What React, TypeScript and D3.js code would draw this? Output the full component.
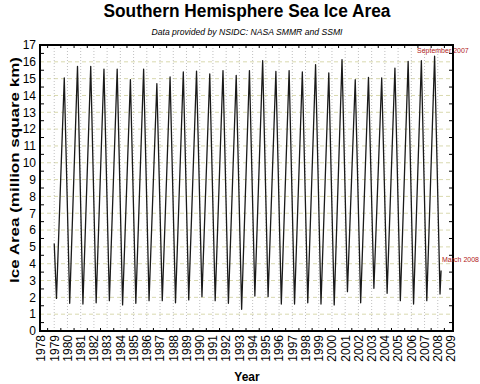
import React from "react";
import * as d3 from "d3";

// Seasonal extremes (million square km)
const minYears = [1979,1980,1981,1982,1983,1984,1985,1986,1987,1988,1989,1990,1991,1992,1993,1994,1995,1996,1997,1998,1999,2000,2001,2002,2003,2004,2005,2006,2007,2008];
const minValues = [1.94,1.65,1.6,1.68,1.8,1.55,1.65,1.8,1.8,1.68,1.85,2.04,1.8,1.65,1.29,2.08,2.04,1.6,1.6,1.68,1.6,1.55,2.34,1.68,2.54,2.24,1.8,1.6,1.8,2.2];
const maxYears = [1979,1980,1981,1982,1983,1984,1985,1986,1987,1988,1989,1990,1991,1992,1993,1994,1995,1996,1997,1998,1999,2000,2001,2002,2003,2004,2005,2006,2007];
const maxValues = [15.04,15.73,15.73,15.57,15.57,14.94,15.57,14.7,15.1,15.4,15.45,15.28,15.48,15.2,15.48,16.07,15.43,15.48,15.4,15.83,15.34,16.13,14.94,15.08,15.04,15.63,16.03,16.07,16.33];
const startPoint = { t: 1979.0, v: 5.2 };
const endPoint = { t: 2008.25, v: 3.6 };

const yearTicks = d3.range(1978, 2010);
const yTickLabels = d3.range(0, 18);

const W = 480, H = 384;
const L = 40, R = 453, T = 45, B = 331;

export default function App() {
  const x = d3.scaleLinear().domain([1978, 2009]).range([41, 451]);
  const y = d3.scaleLinear().domain([0, 17]).range([B, T]);

  const pts: { t: number; v: number }[] = [startPoint];
  minYears.forEach((yr, i) => pts.push({ t: yr + 0.17, v: minValues[i] }));
  maxYears.forEach((yr, i) => pts.push({ t: yr + 0.76, v: maxValues[i] }));
  pts.push(endPoint);
  pts.sort((a, b) => a.t - b.t);

  const line = d3.line<{ t: number; v: number }>().x(d => x(d.t)).y(d => y(d.v));
  const halfVals = d3.range(0.5, 17, 1);
  const halfYears = d3.range(1978.5, 2009, 1);
  const font = "'Liberation Sans', Arial, sans-serif";

  return (
    <svg width={W} height={H} style={{ position: "fixed", left: 0, top: 0, background: "#fff" }} fontFamily={font}>
      <rect x={0} y={0} width={W} height={H} fill="#fff" />
      <text x={247} y={17} textAnchor="middle" fontSize={18} fontWeight="bold" textLength={287} lengthAdjust="spacingAndGlyphs">Southern Hemisphere Sea Ice Area</text>
      <text x={247} y={35} textAnchor="middle" fontSize={8.5} fontStyle="italic" textLength={191} lengthAdjust="spacingAndGlyphs">Data provided by NSIDC: NASA SMMR and SSMI</text>

      {/* grid */}
      {yTickLabels.slice(1, 17).map(v => (
        <line key={"h" + v} x1={L} x2={R} y1={y(v)} y2={y(v)} stroke="#cfcf9a" strokeWidth={0.8} strokeDasharray="4,3" />
      ))}
      {yearTicks.slice(1, 31).map(yr => (
        <line key={"v" + yr} x1={x(yr)} x2={x(yr)} y1={T} y2={B} stroke="#b0b0b0" strokeWidth={0.8} strokeDasharray="1,2" />
      ))}

      {/* ticks */}
      {halfVals.map(v => (
        <g key={"t" + v}>
          <line x1={L} x2={L + 4} y1={y(v)} y2={y(v)} stroke="#000" strokeWidth={1} />
          <line x1={R - 4} x2={R} y1={y(v)} y2={y(v)} stroke="#000" strokeWidth={1} />
        </g>
      ))}
      {halfYears.map(t => (
        <g key={"xt" + t}>
          <line x1={x(t)} x2={x(t)} y1={T} y2={T + 3} stroke="#000" strokeWidth={1} />
          <line x1={x(t)} x2={x(t)} y1={B - 3} y2={B} stroke="#000" strokeWidth={1} />
        </g>
      ))}

      <path d={line(pts) || ""} fill="none" stroke="#1a1a1a" strokeWidth={1.3} strokeLinejoin="round" />

      <rect x={L} y={T} width={R - L} height={B - T} fill="none" stroke="#000" strokeWidth={2} />

      {yTickLabels.map(v => (
        <text key={"yl" + v} x={36} y={y(v)} dy="0.36em" textAnchor="end" fontSize={12}>{v}</text>
      ))}
      {yearTicks.map(yr => (
        <text key={"xl" + yr} transform={`translate(${x(yr)},${B + 4}) rotate(-90)`} dy="0.36em" textAnchor="end" fontSize={12}>{yr}</text>
      ))}

      <text x={247} y={381} textAnchor="middle" fontSize={12} fontWeight="bold">Year</text>
      <text transform={`translate(19,170) rotate(-90)`} textAnchor="middle" fontSize={12} fontWeight="bold" textLength={226} lengthAdjust="spacingAndGlyphs">Ice Area (million square km)</text>

      <text x={417} y={53} fontSize={7} fill="#b02020">September 2007</text>
      <text x={442} y={262} fontSize={7} fill="#b02020">March 2008</text>
    </svg>
  );
}
